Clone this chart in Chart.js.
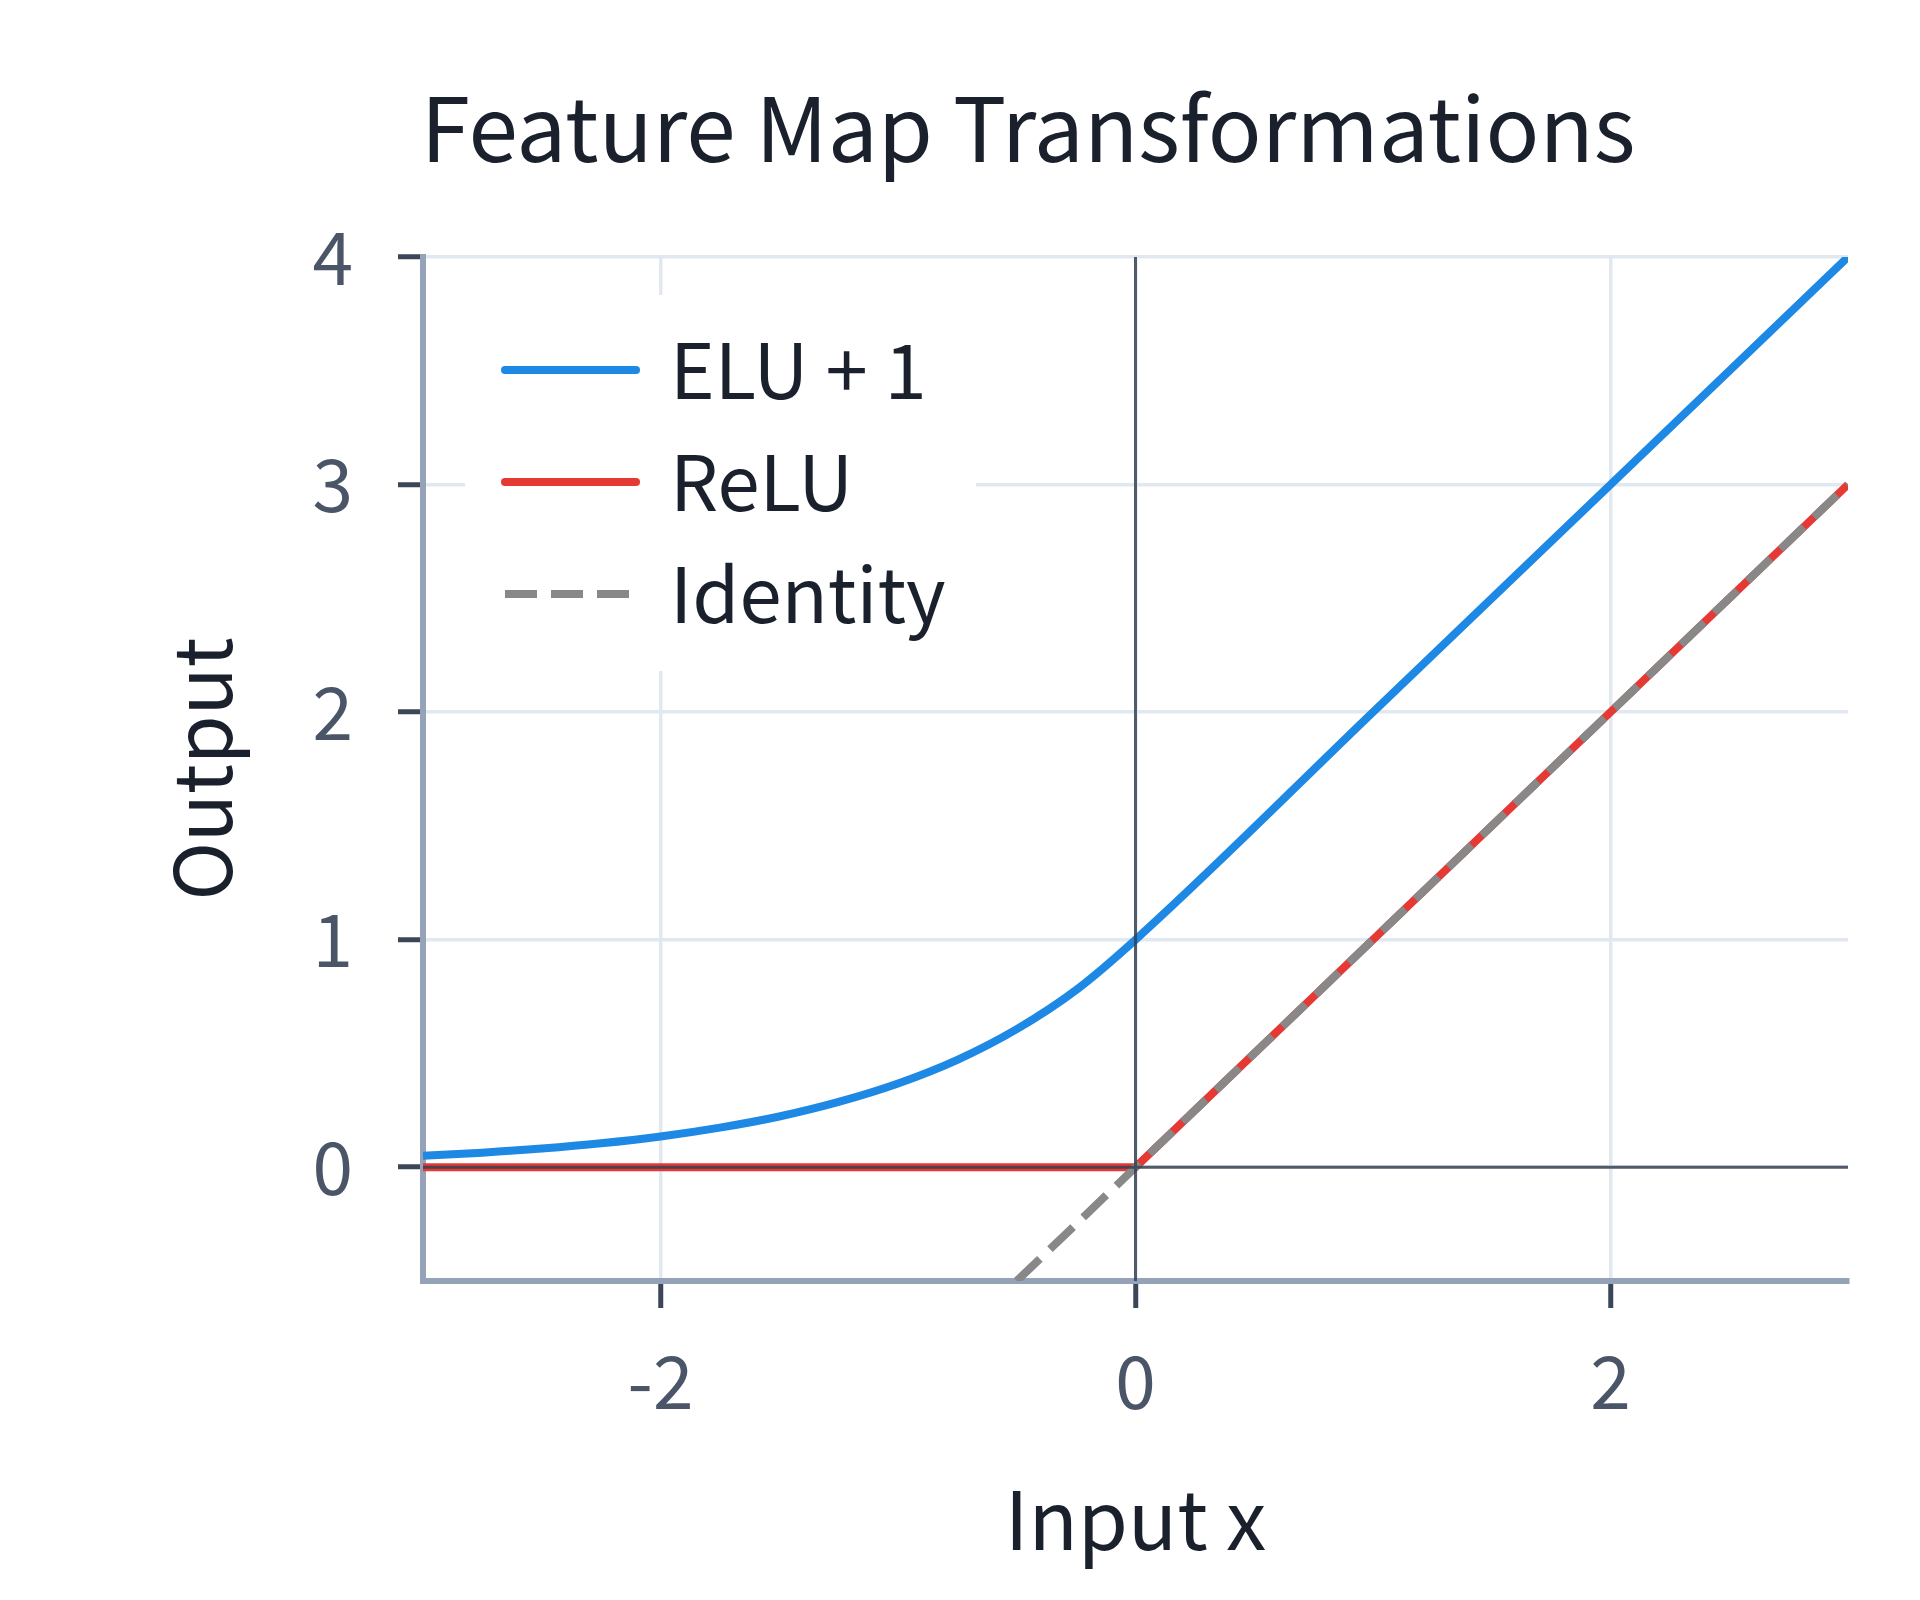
<!DOCTYPE html>
<html>
<head>
<meta charset="utf-8">
<script src="https://cdn.jsdelivr.net/npm/chart.js@4.4.1/dist/chart.umd.min.js"></script>
<style>
  html, body { margin: 0; padding: 0; background: #fff; }
  #wrap { width: 1920px; height: 1600px; }
</style>
</head>
<body>
<div id="wrap"><canvas id="fmt-chart" width="1920" height="1600"></canvas></div>
<script>
let chartTitle = 'Feature Map Transformations'
let xTitle = 'Input x'
let yTitle = 'Output'

let xTicks = [-2, 0, 2]
let yTicks = [0, 1, 2, 3, 4]

// values
let eluX = [-3, -2.75, -2.5, -2.25, -2, -1.75, -1.5, -1.25, -1, -0.75, -0.5, -0.25, 0, 1, 2, 3]
let eluY = [0.05, 0.064, 0.082, 0.105, 0.135, 0.174, 0.223, 0.287, 0.368, 0.472, 0.607, 0.779, 1, 2, 3, 4]

let reluX = [-3, 0, 3]
let reluY = [0, 0, 3]

let identityX = [-0.5, 3]
let identityY = [-0.5, 3]

let seriesLabels = ['ELU + 1', 'ReLU', 'Identity']
let seriesColors = ['#1e88e5', '#e53935', '#888888']

let fontFamily = "'Noto Sans CJK KR', 'Noto Sans', sans-serif"

function toPoints(xs, ys) {
    return xs.map(function(x, i) { return {x: x, y: ys[i]} })
}

// title drawn by hand so it can sit off-centre like the original
let titlePlugin = {
    id: 'bigTitle',
    afterDraw(chart) {
        let ctx = chart.ctx
        ctx.save()
        ctx.font = '89px ' + fontFamily
        ctx.fillStyle = '#1a202c'
        ctx.textAlign = 'center'
        ctx.textBaseline = 'middle'
        ctx.fillText(chartTitle, 1028, 128)
        ctx.restore()
    }
}

// dark reference lines at x = 0 and y = 0
let zeroLinesPlugin = {
    id: 'zeroLines',
    afterDatasetsDraw(chart) {
        let ctx = chart.ctx
        let area = chart.chartArea
        let px = chart.scales.x.getPixelForValue(0)
        let py = chart.scales.y.getPixelForValue(0)
        ctx.save()
        ctx.strokeStyle = 'rgba(55, 65, 81, 0.85)'
        ctx.lineWidth = 3
        ctx.beginPath()
        ctx.moveTo(px, area.top)
        ctx.lineTo(px, area.bottom)
        ctx.moveTo(area.left, py)
        ctx.lineTo(area.right, py)
        ctx.stroke()
        ctx.restore()
    }
}

// legend box in the upper left of the plot
let legendPlugin = {
    id: 'boxLegend',
    afterDatasetsDraw(chart) {
        let ctx = chart.ctx
        ctx.save()
        ctx.fillStyle = '#ffffff'
        ctx.fillRect(465, 295, 511, 376)
        chart.data.datasets.forEach(function(ds, i) {
            let y = 370 + i * 112
            ctx.beginPath()
            ctx.strokeStyle = ds.borderColor
            ctx.lineWidth = 8
            if (ds.borderDash && ds.borderDash.length) {
                ctx.setLineDash(ds.borderDash)
                ctx.lineCap = 'butt'
            } else {
                ctx.setLineDash([])
                ctx.lineCap = 'round'
            }
            ctx.moveTo(505, y)
            ctx.lineTo(636, y)
            ctx.stroke()
            ctx.setLineDash([])
            ctx.font = '76px ' + fontFamily
            ctx.fillStyle = '#1a202c'
            ctx.textAlign = 'left'
            ctx.textBaseline = 'middle'
            ctx.fillText(ds.label, 670, y)
        })
        ctx.restore()
    }
}

let canvas = document.querySelector('#fmt-chart')
let context = canvas.getContext('2d')

let chart = new Chart(context, {
    type: 'line',
    data: {
        datasets: [
            {
                label: seriesLabels[0],
                data: toPoints(eluX, eluY),
                borderColor: seriesColors[0],
                borderWidth: 8,
                cubicInterpolationMode: 'monotone',
                order: 1
            },
            {
                label: seriesLabels[1],
                data: toPoints(reluX, reluY),
                borderColor: seriesColors[1],
                borderWidth: 8,
                order: 2
            },
            {
                label: seriesLabels[2],
                data: toPoints(identityX, identityY),
                borderColor: seriesColors[2],
                borderWidth: 8,
                borderDash: [32, 14],
                borderCapStyle: 'butt',
                order: 0
            }
        ]
    },
    options: {
        responsive: false,
        animation: false,
        devicePixelRatio: 1,
        layout: {
            padding: {top: 257, right: 72, left: 0, bottom: 0}
        },
        elements: {
            point: {radius: 0}
        },
        plugins: {
            legend: {display: false},
            title: {display: false},
            tooltip: {enabled: false}
        },
        scales: {
            x: {
                type: 'linear',
                min: -3,
                max: 3,
                afterBuildTicks: function(scale) {
                    scale.ticks = xTicks.map(function(v) { return {value: v} })
                },
                afterFit: function(scale) { scale.height = 319 },
                grid: {
                    color: '#e2e8f0',
                    lineWidth: 3.5,
                    tickLength: 27,
                    tickColor: '#3b4658',
                    tickWidth: 5
                },
                border: {color: '#94a3b8', width: 6},
                ticks: {
                    font: {size: 73, family: fontFamily},
                    color: '#4a5568',
                    padding: 29
                },
                title: {
                    display: true,
                    text: xTitle,
                    font: {size: 81, family: fontFamily},
                    color: '#1a202c',
                    padding: {top: 0, bottom: 32}
                }
            },
            y: {
                type: 'linear',
                min: -0.5,
                max: 4,
                afterBuildTicks: function(scale) {
                    scale.ticks = yTicks.map(function(v) { return {value: v} })
                },
                afterFit: function(scale) { scale.width = 423 },
                grid: {
                    color: '#e2e8f0',
                    lineWidth: 3.5,
                    tickLength: 25,
                    tickColor: '#3b4658',
                    tickWidth: 5
                },
                border: {color: '#94a3b8', width: 6},
                ticks: {
                    font: {size: 73, family: fontFamily},
                    color: '#4a5568',
                    padding: 45
                },
                title: {
                    display: true,
                    text: yTitle,
                    font: {size: 79, family: fontFamily},
                    color: '#1a202c',
                    padding: {top: 155, bottom: 0}
                }
            }
        }
    },
    plugins: [zeroLinesPlugin, legendPlugin, titlePlugin]
})
</script>
</body>
</html>
